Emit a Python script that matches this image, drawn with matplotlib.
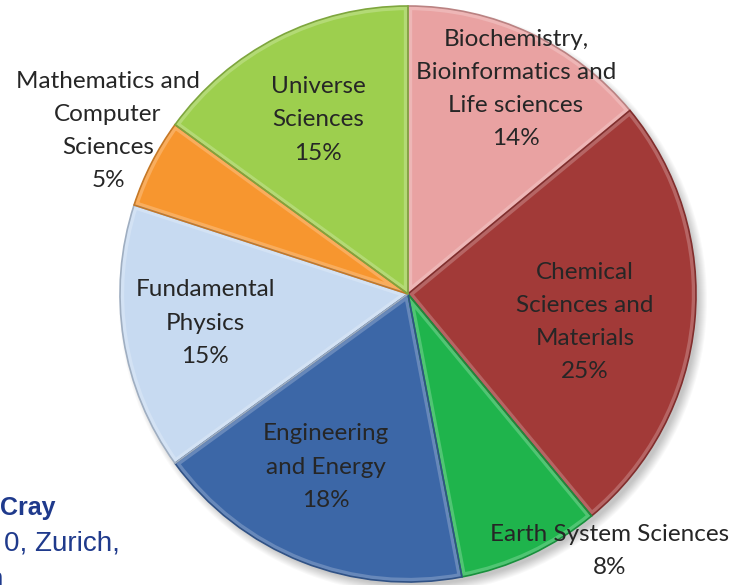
import numpy as np
import matplotlib
matplotlib.use("Agg")
import matplotlib.pyplot as plt
import matplotlib.colors as mcolors
from matplotlib.patches import Wedge

# slices, clockwise from 12 o'clock
labels = ["Biochemistry,\nBioinformatics and\nLife sciences",
          "Chemical\nSciences and\nMaterials",
          "Earth System Sciences",
          "Engineering\nand Energy",
          "Fundamental\nPhysics",
          "Mathematics and\nComputer\nSciences",
          "Universe\nSciences"]
shares = [14, 25, 8, 18, 15, 5, 15]
colors = ["#E9A2A2", "#A23A38", "#1FB44C", "#3C67A7",
          "#C7DAF1", "#F7962F", "#9DCF4E"]
# label centres (pixels, y from top)
label_pos = [(516, 89), (585, 322), (610, 551), (326, 467),
             (205, 323), (108, 131), (318, 120)]

W, H = 736, 585
fig = plt.figure(figsize=(W / 100, H / 100), dpi=100)
ax = fig.add_axes([0, 0, 1, 1])

cx, cy, r = 408, H - 294, 288

# soft drop shadow
for k in range(10):
    sh = plt.Circle((cx + 5, cy - 6), r + 6 - k, color="#000000",
                    alpha=0.025, lw=0, zorder=0)
    ax.add_patch(sh)

def mix(c, other, f):
    a = np.array(mcolors.to_rgb(c))
    b = np.array(mcolors.to_rgb(other))
    return tuple(a * (1 - f) + b * f)

wedges, _ = ax.pie(shares, colors=colors, startangle=90, counterclock=False,
                   center=(cx, cy), radius=r, frame=True,
                   wedgeprops=dict(linewidth=1.2))
for w, c in zip(wedges, colors):
    w.set_edgecolor(mix(c, "black", 0.2))
    w.set_zorder(3)
    # bevel-ish lighter band just inside each slice edge
    band = Wedge(w.center, w.r, w.theta1, w.theta2, facecolor="none",
                 edgecolor=mix(c, "white", 0.22), linewidth=6, zorder=2.5)
    ax.add_patch(band)
    band.set_clip_path(w)
    w.set_facecolor("none")
    base = Wedge(w.center, w.r, w.theta1, w.theta2, facecolor=c,
                 edgecolor="none", zorder=2)
    ax.add_patch(base)

ax.set_xlim(0, W)
ax.set_ylim(0, H)
ax.set_aspect("equal")
ax.axis("off")

font = ["Lato", "DejaVu Sans"]
for lab, s, (x, y) in zip(labels, shares, label_pos):
    ax.text(x, H - y, f"{lab}\n{s}%", ha="center", va="center",
            fontsize=17.5, family=font, color="#262626",
            linespacing=1.72, zorder=5)

# slide text at bottom left (partly cut in the original)
blue = "#1F3A8C"
ax.text(0, H - 508, "Cray", ha="left", va="center", fontsize=18,
        fontweight="bold", family="Liberation Sans", color=blue)
ax.text(120, H - 543, "0, Zurich,", ha="right", va="center", fontsize=20,
        family="Liberation Sans", color=blue)
ax.text(3, H - 580, "n", ha="right", va="center", fontsize=20,
        family="Liberation Sans", color=blue)

fig.savefig("out.png", dpi=100)
